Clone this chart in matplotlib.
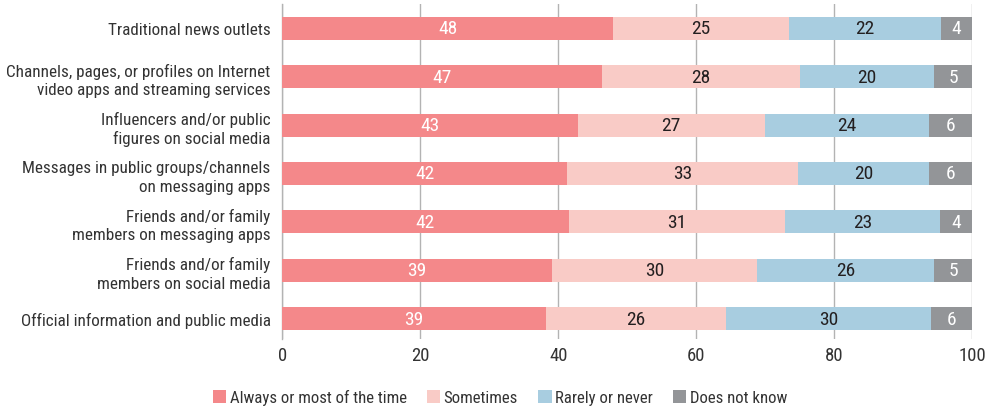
import matplotlib
matplotlib.use("Agg")
import matplotlib.pyplot as plt
import numpy as np
from matplotlib.patches import Patch

plt.rcParams['font.family'] = ['Roboto Condensed', 'Barlow Condensed', 'IBM Plex Sans Condensed', 'DejaVu Sans']

categories = [
    "Traditional news outlets",
    "Channels, pages, or profiles on Internet\nvideo apps and streaming services",
    "Influencers and/or public\nfigures on social media",
    "Messages in public groups/channels\non messaging apps",
    "Friends and/or family\nmembers on messaging apps",
    "Friends and/or family\nmembers on social media",
    "Official information and public media",
]
series_names = ["Always or most of the time", "Sometimes", "Rarely or never", "Does not know"]

always = [47.9, 46.4, 42.8, 41.3, 41.5, 39.1, 38.2]
sometimes = [25.5, 28.6, 27.1, 33.4, 31.4, 29.7, 26.1]
rarely = [22.0, 19.5, 23.9, 19.1, 22.4, 25.7, 29.7]
dontknow = [4.6, 5.5, 6.2, 6.2, 4.7, 5.5, 6.0]

always_lbl = [48, 47, 43, 42, 42, 39, 39]
sometimes_lbl = [25, 28, 27, 33, 31, 30, 26]
rarely_lbl = [22, 20, 24, 20, 23, 26, 30]
dontknow_lbl = [4, 5, 6, 6, 4, 5, 6]

colors = ["#F4888A", "#F9CBC6", "#A8CDE0", "#939598"]
text_colors = ["white", "#231F20", "#231F20", "white"]

fig = plt.figure(figsize=(9.92, 4.10), dpi=100)
ax = fig.add_axes([0.2846, 0.1707, 0.9801 - 0.2846, 0.9878 - 0.1707])

y = np.arange(len(categories))
data = [always, sometimes, rarely, dontknow]
labels = [always_lbl, sometimes_lbl, rarely_lbl, dontknow_lbl]
left = np.zeros(len(categories))
for vals, lbls, c, tc, name in zip(data, labels, colors, text_colors, series_names):
    vals = np.array(vals)
    ax.barh(y, vals, left=left, height=0.476, color=c, label=name, zorder=3)
    for yi, l, v, t in zip(y, left, vals, lbls):
        ax.text(l + v / 2, yi, str(t), ha='center', va='center', color=tc,
                fontsize=14, zorder=4)
    left = left + vals

ax.set_xlim(0, 100)
ax.set_ylim(6.42, -0.5)
ax.set_yticks(y)
ax.set_yticklabels(categories, fontsize=12.3, color="#333333", linespacing=1.3)
ax.set_xticks([0, 20, 40, 60, 80, 100])
ax.tick_params(axis='x', labelsize=13.5, colors="#333333", length=0, pad=5)
ax.tick_params(axis='y', length=0, pad=8.5)
ax.xaxis.grid(True, color="#B3B3B3", linewidth=1.0, zorder=0)
for s in ['top', 'right', 'bottom']:
    ax.spines[s].set_visible(False)
ax.spines['left'].set_color("#B3B3B3")
ax.spines['left'].set_linewidth(1.0)

handles = [Patch(facecolor=c, edgecolor='none') for c in colors]
fig.legend(handles, series_names, loc='center', bbox_to_anchor=(0.504, 1 - 398 / 410),
           ncol=4, frameon=False, fontsize=12.1, handlelength=0.8, handleheight=0.8,
           handletextpad=0.2, columnspacing=1.2, labelcolor="#333333")

fig.savefig("out.png", dpi=100)
